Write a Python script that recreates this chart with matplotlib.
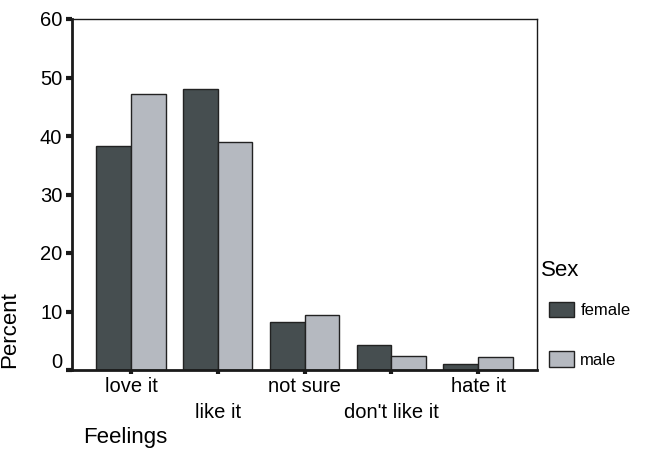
import matplotlib
matplotlib.use("Agg")
import matplotlib.pyplot as plt
import matplotlib.transforms as mtransforms
import numpy as np

plt.rcParams['font.family'] = ['Liberation Sans', 'DejaVu Sans']

categories = ["love it", "like it", "not sure", "don't like it", "hate it"]
female = [38.3, 48.1, 8.2, 4.2, 1.0]
male = [47.1, 38.9, 9.4, 2.4, 2.2]
yticks = [0, 10, 20, 30, 40, 50, 60]

c_female = "#464e50"
c_male = "#b5b9c0"
edge = "#222222"

fig = plt.figure(figsize=(6.56, 4.55), dpi=100)
ax = fig.add_axes([72/656, 1-370/455, (537-72)/656, (370-19)/455])

x = np.arange(len(categories))
w = 0.4
ax.bar(x - w/2, female, w, color=c_female, edgecolor=edge, linewidth=1.0, label="female")
ax.bar(x + w/2, male, w, color=c_male, edgecolor=edge, linewidth=1.0, label="male")

ax.set_xlim(-0.68, 4.68)
ax.set_ylim(0, 60)
ax.set_yticks(yticks)
ax.set_yticklabels([str(v) for v in yticks], fontsize=14.5)
ax.set_xticks(x)
labels = [c if i % 2 == 0 else "\n" + c for i, c in enumerate(categories)]
ax.set_xticklabels(labels, fontsize=14.5, linespacing=1.45)

for s in ['left', 'bottom']:
    ax.spines[s].set_linewidth(2.0)
    ax.spines[s].set_color("#1a1a1a")
for s in ['top', 'right']:
    ax.spines[s].set_linewidth(1.0)
    ax.spines[s].set_color("#1a1a1a")

ax.tick_params(axis='y', direction='out', length=4, width=3, pad=3, color="#1a1a1a")
ax.tick_params(axis='x', direction='out', length=3, width=3, pad=2, color="#1a1a1a")

# shift the "0" label up like the reference
lab0 = ax.get_yticklabels()[0]
lab0.set_transform(lab0.get_transform() + mtransforms.ScaledTranslation(0, 10/100, fig.dpi_scale_trans))

ax.set_ylabel("Percent", fontsize=16)
ax.yaxis.set_label_coords(-0.112, 0.114)

fig.text(83/656, 1-438/455, "Feelings", fontsize=16, ha='left', va='center')
fig.text(541/656, 1-270/455, "Sex", fontsize=16, ha='left', va='center')

leg = ax.legend(loc='upper left', bbox_to_anchor=(1.0, 0.228),
                frameon=False, fontsize=12,
                handlelength=1.5, handleheight=1.05, labelspacing=2.0,
                handletextpad=0.4, borderaxespad=0.3)
for p in leg.get_patches():
    p.set_edgecolor(edge)
    p.set_linewidth(1.0)

fig.savefig("out.png", dpi=100)
